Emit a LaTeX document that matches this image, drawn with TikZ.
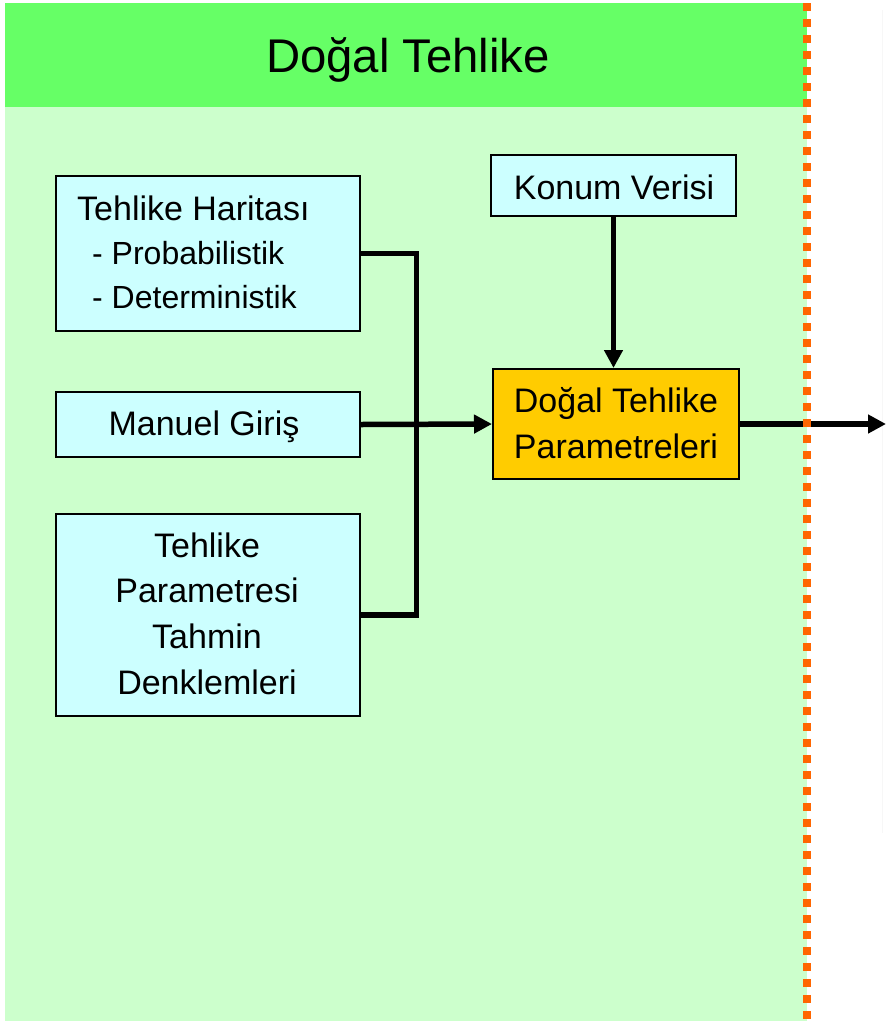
\documentclass[tikz,border=0pt]{standalone}
\usepackage{fontspec}
\setmainfont{Liberation Sans}
\usetikzlibrary{arrows.meta}
\definecolor{headgreen}{HTML}{66FF66}
\definecolor{panelgreen}{HTML}{CCFFCC}
\definecolor{boxcyan}{HTML}{CCFFFF}
\definecolor{paramorange}{HTML}{FFCC00}
\definecolor{dotorange}{HTML}{FF6600}
\begin{document}
\begin{tikzpicture}[x=1pt,y=-1pt,
  box/.style={draw=black, line width=2pt, inner sep=0pt},
  inbox/.style={box, fill=boxcyan},
  outbox/.style={box, fill=paramorange},
  link/.style={draw=black, line width=5.5pt},
  tip/.style={-{Triangle[length=18pt,width=18pt]}},
  txt/.style={anchor=base, inner sep=0pt, font=\fontsize{34}{40}\selectfont},
  subtxt/.style={anchor=base west, inner sep=0pt, font=\fontsize{32}{38}\selectfont}]
\useasboundingbox (0,0) rectangle (886,1021);

% panel and header band
\fill[panelgreen] (5,3) rectangle (807,1021);
\fill[headgreen] (5,3) rectangle (807,107);
\node[anchor=base, inner sep=0pt, font=\fontsize{47.3}{55}\selectfont] (title) at (408,72.7) {Doğal Tehlike};

% faint frame line on the right
\draw[black!3, line width=1pt] (882,10) -- (882,833);

% input boxes
\node[inbox, minimum width=304pt, minimum height=155pt] (har) at (208,253.5) {};
\node[inbox, minimum width=304pt, minimum height=65pt] (man) at (208,424.5) {};
\node[inbox, minimum width=304pt, minimum height=202pt] (par) at (208,615) {};
\node[inbox, minimum width=245pt, minimum height=61pt] (kon) at (613.5,185.5) {};
\node[outbox, minimum width=246pt, minimum height=110pt] (dtp) at (616,424) {};

% box texts
\node[anchor=base west, inner sep=0pt, font=\fontsize{34}{40}\selectfont] (harT) at (77,220) {Tehlike Haritası};
\node[subtxt] (harP) at (92,264.5) {- Probabilistik};
\node[subtxt] (harD) at (92,308) {- Deterministik};
\node[txt] (manT) at (204,435) {Manuel Giriş};
\node[txt] (parA) at (207,557) {Tehlike};
\node[txt] (parB) at (207,602.5) {Parametresi};
\node[txt] (parC) at (207,648.5) {Tahmin};
\node[txt] (parD) at (207,694) {Denklemleri};
\node[txt] (konT) at (614,199) {Konum Verisi};
\node[txt] (dtpA) at (616,412.7) {Doğal Tehlike};
\node[txt] (dtpB) at (616,458) {Parametreleri};

% connectors
\coordinate (bus) at (416.5,253.5);
\coordinate (out) at (886,424);
\draw[link] (har.east) -- (bus) |- (par.east);
\draw[link, tip] (man.east) -- (dtp.west);
\draw[link, tip] (kon.south) -- (kon.south |- dtp.north);
\draw[link, tip] (dtp.east) -- (out);

% dotted boundary
\draw[dotorange, line width=8pt, dash pattern=on 8pt off 8pt] (807,3) -- (807,1021);
\end{tikzpicture}
\end{document}
